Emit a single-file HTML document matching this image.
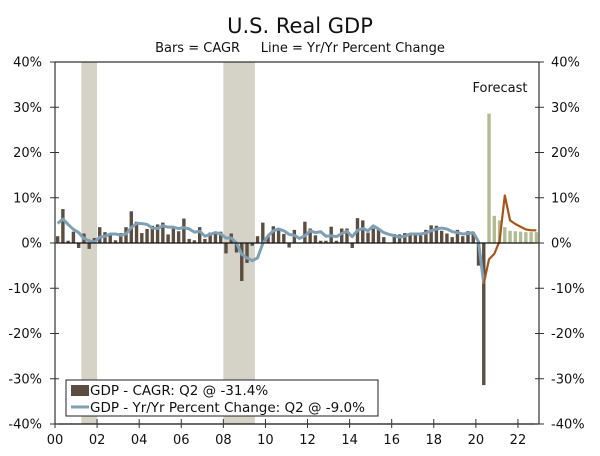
<!DOCTYPE html>
<html><head><meta charset="utf-8"><style>
body{margin:0;background:#fff;}
svg{display:block;font-family:"DejaVu Sans","Liberation Sans",sans-serif;}
</style></head><body>
<svg id="chart" width="600" height="456" viewBox="0 0 600 456" xmlns="http://www.w3.org/2000/svg">
<text x="300" y="33" text-anchor="middle" font-size="21" fill="#111">U.S. Real GDP</text>
<text x="300" y="52" text-anchor="middle" font-size="13" fill="#111">Bars = CAGR&#160;&#160;&#160;&#160;&#160;Line = Yr/Yr Percent Change</text>
<g id="shade"></g><g id="bars"></g><g id="lines"></g><g id="axes"></g>
<text x="500" y="92" text-anchor="middle" font-size="13" fill="#111">Forecast</text>
<g>
<rect x="66" y="380" width="312" height="36" fill="#fff" stroke="#222" stroke-width="1"/>
<rect x="71" y="385" width="18" height="11" fill="#5b4d40"/>
<text x="90" y="395" font-size="13.5" fill="#111">GDP - CAGR: Q2 @ -31.4%</text>
<line x1="71" y1="407" x2="89" y2="407" stroke="#7f9fb5" stroke-width="3"/>
<text x="90" y="412" font-size="13.5" fill="#111">GDP - Yr/Yr Percent Change: Q2 @ -9.0%</text>
</g>
</svg>
<script>
const cagrActual=[1.5,7.5,0.5,2.5,-1.1,2.1,-1.3,1.1,3.5,2.4,1.8,0.6,2.2,3.5,7.0,4.7,2.2,3.1,3.8,4.1,4.5,1.9,3.6,2.6,5.4,0.9,0.6,3.5,0.9,2.3,2.2,2.5,-2.3,2.1,-2.1,-8.4,-4.4,-0.6,1.5,4.5,1.5,3.7,3.0,2.0,-1.0,2.9,-0.1,4.7,3.2,1.7,0.5,0.5,3.6,0.5,3.2,3.2,-1.1,5.5,5.0,2.3,3.2,3.0,1.3,0.1,2.0,1.9,2.2,2.0,2.3,1.7,2.9,3.9,3.8,2.7,2.1,1.3,2.9,1.5,2.6,2.4,-5.0,-31.4];
const cagrForecast=[28.6,6.0,5.0,3.5,2.7,2.6,2.5,2.4,2.4,2.4];
const yoyActual=[4.3,5.3,4.1,3.0,2.3,1.0,0.5,0.2,1.3,1.5,2.0,2.0,1.7,2.0,3.4,4.3,4.3,4.1,3.3,3.2,3.8,3.5,3.5,3.2,3.4,3.1,2.4,2.6,1.5,1.9,2.3,2.0,1.1,1.1,0.0,-2.5,-3.3,-3.9,-3.3,-0.1,1.6,2.7,3.1,2.7,1.9,1.7,1.0,1.6,2.7,2.3,2.5,1.5,1.6,1.4,2.1,2.6,1.4,2.8,3.2,2.7,3.8,3.1,2.3,1.9,1.6,1.3,1.5,2.0,2.0,2.0,2.2,2.7,3.1,3.3,3.1,2.5,2.3,2.0,2.1,2.3,0.3,-9.0];
const yoyForecast=[-9.0,-3.6,-2.4,0.4,10.5,5.0,4.2,3.6,3.0,2.8,2.8];
const yTicks=[40,30,20,10,0,-10,-20,-30,-40];
const xTickLabels=["00","02","04","06","08","10","12","14","16","18","20","22"];
const recessions=[[2001.25,2002.0],[2008.0,2009.5]];

const L=55,R=539,T=62,B=424,Y0=2000,Y1=2023;
const NS="http://www.w3.org/2000/svg";
const qw=(R-L)/((Y1-Y0)*4);
const xT=t=>L+(t-Y0)/(Y1-Y0)*(R-L);
const xQ=i=>L+(i+0.5)*qw;
const y=v=>T+(40-v)/80*(B-T);
function mk(tag,attrs,parent){const e=document.createElementNS(NS,tag);for(const k in attrs)e.setAttribute(k,attrs[k]);document.getElementById(parent).appendChild(e);return e;}

recessions.forEach(r=>{
  const e=mk('rect',{x:xT(r[0]),y:T,width:xT(r[1])-xT(r[0]),height:B-T,fill:'#d5d2c8'},'shade');
  
  
});
function bar(i,v,col){
  const e=mk('rect',{x:xQ(i)-1.7,y:Math.min(y(v),y(0)),width:3.4,height:Math.abs(y(v)-y(0)),fill:col},'bars');
  
  
}
cagrActual.forEach((v,i)=>bar(i,v,'#5b4d40'));
cagrForecast.forEach((v,i)=>bar(cagrActual.length+i,v,'#b3bb94'));

const pa=yoyActual.map((v,i)=>xQ(i)+','+y(v)).join(' ');
const l1=mk('polyline',{points:pa,fill:'none',stroke:'#7f9fb5','stroke-width':3,'stroke-linejoin':'round'},'lines');


const off=yoyActual.length-1;
const pf=yoyForecast.map((v,i)=>xQ(off+i)+','+y(v)).join(' ');
const l2=mk('polyline',{points:pf,fill:'none',stroke:'#a65418','stroke-width':2.2,'stroke-linejoin':'round'},'lines');



const ax=mk('path',{d:`M${L},${T}H${R}M${L},${T}V${B}M${R},${T}V${B}`,stroke:'#333','stroke-width':1.2,fill:'none'},'axes');


const zl=mk('line',{x1:L,x2:R,y1:y(0),y2:y(0),stroke:'#111','stroke-width':1.2},'axes');


const xa=mk('line',{x1:L,x2:R,y1:B,y2:B,stroke:'#111','stroke-width':1.2},'axes');


yTicks.forEach(v=>{
  mk('path',{d:`M${L-5},${y(v)}H${L+4}M${R-4},${y(v)}H${R+5}`,stroke:'#333','stroke-width':1},'axes');
  const a=mk('text',{x:L-13,y:y(v)+4.5,'text-anchor':'end','font-size':13,fill:'#111'},'axes');
  a.textContent=v+'%';
  
  
  const b=mk('text',{x:R+12,y:y(v)+4.5,'text-anchor':'start','font-size':13,fill:'#111'},'axes');
  b.textContent=v+'%';
  
  
});
xTickLabels.forEach((s,i)=>{
  const xx=xT(Y0+2*i);
  mk('line',{x1:xx,x2:xx,y1:B-5,y2:B+4,stroke:'#333','stroke-width':1},'axes');
  const t=mk('text',{x:xx,y:B+20,'text-anchor':'middle','font-size':13,fill:'#111'},'axes');
  t.textContent=s;
  
  
});
</script>
</body></html>
